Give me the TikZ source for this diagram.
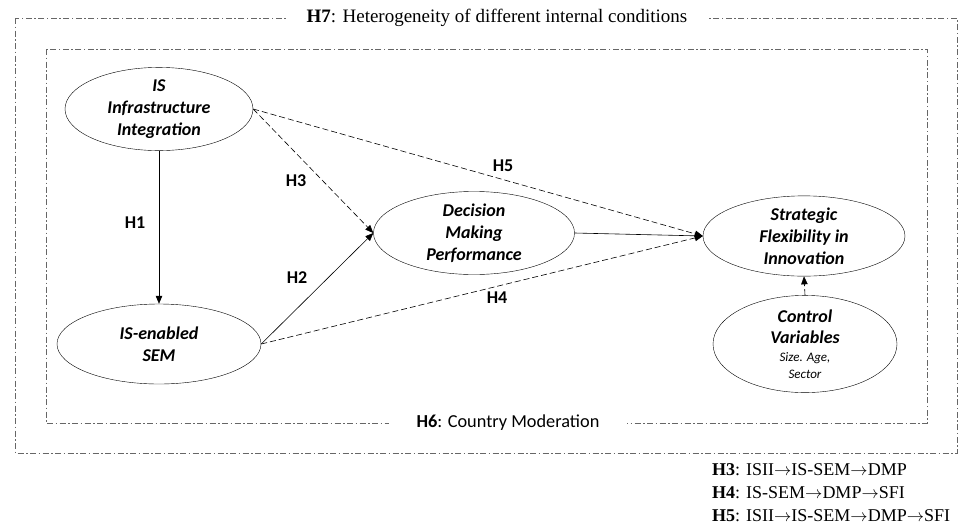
\documentclass[tikz,border=0pt]{standalone}
\usepackage{fontspec}
\setmainfont{Liberation Serif}
\newfontfamily\calibri{Carlito}
\usetikzlibrary{shapes.geometric,arrows.meta}

\begin{document}
\begin{tikzpicture}[
		x=1pt,y=-1pt,
		construct/.style={ellipse,draw,thin,inner sep=0pt,align=center,
			font=\calibri\bfseries\itshape\fontsize{18}{22}\selectfont},
		hyp/.style={font=\calibri\bfseries\fontsize{18}{20}\selectfont},
		frame/.style={draw=black!60,line width=0.8pt,
			dash pattern=on 6pt off 2.5pt on 1.5pt off 2.5pt},
		framelabel/.style={fill=white,inner xsep=20pt,inner ysep=2pt},
		link/.style={-{Triangle[length=8pt,width=6.5pt]},line width=0.6pt},
		dlink/.style={link,dash pattern=on 6pt off 3pt}
		]
		\useasboundingbox (0,0) rectangle (963,528);
		\draw[frame] (15,18) rectangle (957,453);
		\draw[frame] (46,49) rectangle (927,423);
		\node[framelabel,font=\fontsize{19}{20}\selectfont] (h7) at (497,18) {\textbf{H7}: Heterogeneity of different internal conditions};
		\node[framelabel,inner xsep=28pt,font=\calibri\fontsize{18.3}{20}\selectfont] (h6) at (508,423) {\textbf{H6}: Country Moderation};
		\node[construct,minimum width=188pt,minimum height=80pt] (isii) at (159,109) {IS\\Infrastructure\\Integration};
		\node[construct,minimum width=204pt,minimum height=80pt] (sem) at (159,344) {IS-enabled\\SEM};
		\node[construct,minimum width=201pt,minimum height=76pt] (dmp) at (474,233) {Decision\\Making\\Performance};
		\node[construct,minimum width=202pt,minimum height=76pt] (sfi) at (804,236) {Strategic\\Flexibility in\\Innovation};
		\node[construct,minimum width=184pt,minimum height=78pt] (ctrl) at (805,344) {Control\\[-1pt]Variables\\[-4pt]{\fontsize{13}{15}\selectfont\mdseries Size. Age,}\\[-5pt]{\fontsize{13}{15}\selectfont\mdseries Sector}};
		\draw[link] (isii.south) -- (sem.north);
		\draw[link] (sem.east) -- (dmp.west);
		\draw[dlink] (isii.east) -- (dmp.west);
		\draw[dlink] (isii.east) -- (sfi.west);
		\draw[dlink] (sem.east) -- (sfi.west);
		\draw[link] (dmp.east) -- (sfi.west);
		\draw[dlink] (ctrl.north) -- (sfi.south);
		\node[hyp] (l1) at (135,223) {H1};
		\node[hyp] (l2) at (297,278) {H2};
		\node[hyp] (l3) at (296,181) {H3};
		\node[hyp] (l4) at (497,298) {H4};
		\node[hyp] (l5) at (503,166) {H5};
		\node[anchor=north west,align=left,inner sep=0pt,font=\fontsize{18}{23}\selectfont] (legend) at (712,463) {\textbf{H3}: ISII$\rightarrow$IS-SEM$\rightarrow$DMP\\\textbf{H4}: IS-SEM$\rightarrow$DMP$\rightarrow$SFI\\\textbf{H5}: ISII$\rightarrow$IS-SEM$\rightarrow$DMP$\rightarrow$SFI};
	\end{tikzpicture}
\end{document}
